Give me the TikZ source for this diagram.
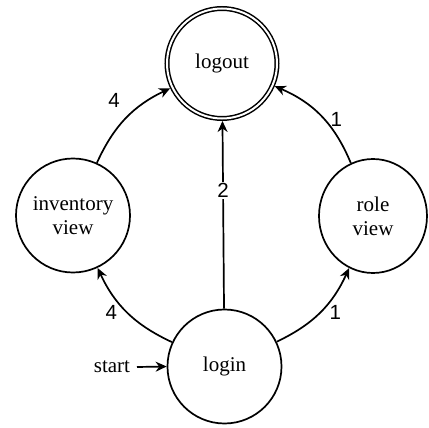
\documentclass[tikz,border=0pt]{standalone}
\usepackage{fontspec}
\setmainfont{Liberation Serif}
\newfontfamily\lblfont{Liberation Sans}
\usetikzlibrary{arrows.meta,shapes.geometric}
\begin{document}
\begin{tikzpicture}[x=1bp,y=1bp,
  state/.style={circle,draw,line width=1.7bp,minimum size=114bp,inner sep=0pt,
    font=\fontsize{21bp}{24bp}\selectfont,align=center},
  accepting/.style={circle,draw,line width=1.5bp,double,double distance=2bp,
    minimum size=110bp,inner sep=0pt,outer sep=2.5bp,font=\fontsize{21bp}{24bp}\selectfont},
  edge/.style={line width=1.7bp,-{Stealth[length=11bp,width=10bp,inset=3.5bp]}},
  lbl/.style={font=\lblfont\fontsize{20.5bp}{24bp}\selectfont,inner sep=1.5bp}]
\useasboundingbox (0,0) rectangle (429,428);
\node[accepting] (logout) at (222,364.5) {logout};
\node[state] (inv) at (73,212.5) {inventory\\view};
\node[state,ellipse,minimum width=108bp,minimum height=114bp] (role) at (373,212) {role\\view};
\node[state] (login) at (224.5,61.5) {login};
\node[anchor=east,inner sep=0pt,outer sep=0pt,font=\fontsize{21bp}{24bp}\selectfont] (st) at (130,61) {start};
\draw[edge] ([xshift=7bp]st.east) -- (login.west);
\draw[edge] (inv) to[bend left=20] node[lbl,pos=0.5,xshift=-12bp,yshift=18bp] {4} (logout);
\draw[edge] (role) to[bend right=22] node[lbl,pos=0.5,xshift=15bp,yshift=-3bp] {1} (logout);
\draw[edge] (login) -- node[lbl,pos=0.63,fill=white] {2} (logout);
\draw[edge] (login) to[bend left=20] node[lbl,pos=0.5,xshift=-16bp,yshift=0bp] {4} (inv);
\draw[edge] (login) to[bend right=20] node[lbl,pos=0.5,xshift=15bp,yshift=0bp] {1} (role);
\end{tikzpicture}
\end{document}
